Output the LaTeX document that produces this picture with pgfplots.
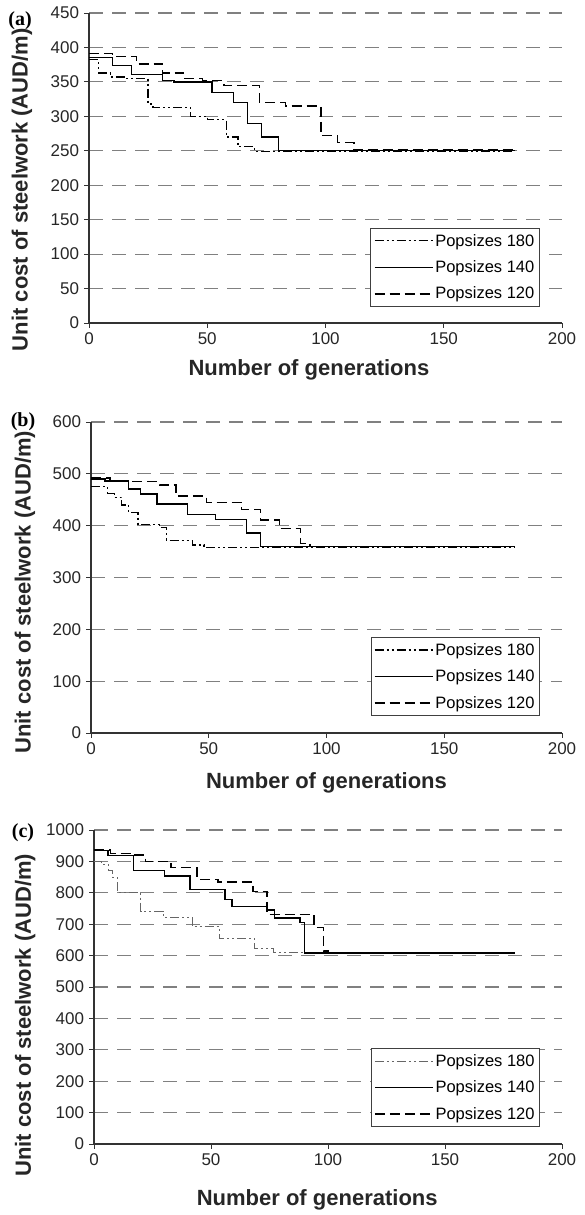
\documentclass[border=0pt]{standalone}
\usepackage{pgfplots}
\pgfplotsset{compat=1.18}
\usepackage{fontspec}
\setmainfont{Liberation Sans}
\newfontfamily\tnr{Liberation Serif}

\pgfplotsset{
 panel/.style={
  scale only axis, xmin=0, xmax=200, ymin=0,
  axis x line*=bottom, axis y line*=left,
  axis line style={-, black!80, line width=1.1pt},
  xtick={0,50,...,200},
  tick align=outside, major tick length=4.5pt,
  tick style={black!80, line width=1pt},
  ymajorgrids, grid style={black!50, line width=1.1pt, dash pattern=on 14pt off 9pt},
  tick label style={font=\fontsize{17}{20}\selectfont, black!85},
  yticklabel style={xshift=-2pt},
  xticklabel style={yshift=-2pt},
  /pgf/number format/assume math mode=true,
  /pgf/number format/1000 sep={},
  label style={font=\bfseries\fontsize{22}{26}\selectfont, black!85},
  xlabel={Number of generations},
  ylabel={Unit cost of steelwork (AUD/m)},
  legend style={draw=black!75, line width=0.8pt, fill=white,
    font=\fontsize{16.5}{19}\selectfont, anchor=south east,
    inner xsep=3pt, inner ysep=4pt, row sep=9pt, cells={anchor=west}},
  legend image code/.code={\draw[#1] (0pt,0pt) -- (58pt,0pt);},
 },
 p180/.style={black, line width=1.3pt, dash pattern=on 9pt off 3pt on 2pt off 3pt on 2pt off 3pt, const plot},
 p140/.style={black, line width=1.3pt, solid, const plot},
 p120/.style={black, line width=1.5pt, dash pattern=on 10pt off 5pt, const plot},
}

\begin{document}
\begin{tikzpicture}
\useasboundingbox (0,0) rectangle (584pt,-1215pt);

% ---------------- (a)
\begin{axis}[panel, at={(89pt,-323pt)}, anchor=south west,
  width=473pt, height=310pt, ymax=450, ytick={0,50,...,450},
  xlabel style={at={(axis description cs:0.465,-0.152)}, anchor=center},
  ylabel style={at={(axis description cs:-0.1416,0.43)}, anchor=center},
  legend style={at={(axis description cs:0.953,0.052)}}]
\addplot[p180] coordinates {(0,382) (4,363) (9,357) (15,355) (25,318) (27,313) (43,300) (50,295) (58,270) (63,256) (70,249) (180,249)};
\addlegendentry{Popsizes 180}
\addplot[p140] coordinates {(0,385) (10,374) (18,361) (31,352) (36,350) (52,335) (61,320) (67,290) (73,270) (80,250) (180,250)};
\addlegendentry{Popsizes 140}
\addplot[p120] coordinates {(0,391) (10,387) (20,376) (31,363) (40,355) (48,352) (57,345) (72,320) (83,315) (98,272) (105,262) (112,251) (180,251)};
\addlegendentry{Popsizes 120}
\end{axis}

% ---------------- (b)
\begin{axis}[panel, at={(91pt,-733pt)}, anchor=south west,
  width=471pt, height=311pt, ymax=600, ytick={0,100,...,600},
  xlabel style={at={(axis description cs:0.5,-0.161)}, anchor=center},
  ylabel style={at={(axis description cs:-0.14,0.453)}, anchor=center},
  legend style={at={(axis description cs:0.953,0.055)}}]
\addplot[p180] coordinates {(0,475) (7,462) (10,455) (13,440) (16,425) (20,402) (29,397) (32,372) (43,363) (48,358) (180,358)};
\addlegendentry{Popsizes 180}
\addplot[p140] coordinates {(0,490) (6,486) (16,471) (21,461) (28,442) (41,421) (53,412) (66,386) (72,360) (180,360)};
\addlegendentry{Popsizes 140}
\addplot[p120] coordinates {(0,492) (8,487) (16,485) (29,478) (36,457) (49,445) (64,431) (72,411) (80,395) (89,366) (93,360) (180,360)};
\addlegendentry{Popsizes 120}
\end{axis}

% ---------------- (c)
\begin{axis}[panel, at={(94pt,-1144pt)}, anchor=south west,
  width=468pt, height=314pt, ymax=1000, ytick={0,100,...,1000},
  xlabel style={at={(axis description cs:0.477,-0.178)}, anchor=center},
  ylabel style={at={(axis description cs:-0.147,0.41)}, anchor=center},
  legend style={at={(axis description cs:0.953,0.054)}}]
\addplot[p180, black!60, line width=1pt] coordinates {(0,900) (3,891) (6,870) (8,850) (10,802) (20,741) (29.5,722) (42,692) (53.5,655) (68.5,624) (76.5,610) (180,610)};
\addlegendentry{Popsizes 180}
\addplot[p140] coordinates {(0,935) (6,918) (17,870) (30,854) (41,810) (56,778) (59,757) (74,745) (77,720) (88,705) (90,608) (180,608)};
\addlegendentry{Popsizes 140}
\addplot[p120] coordinates {(0,936) (7,925) (17,920) (22,900) (33,880) (44,843) (53,834) (68,804) (74,731) (94,690) (98,615) (100,610) (180,610)};
\addlegendentry{Popsizes 120}
\end{axis}

\node[font=\tnr\bfseries\fontsize{20}{24}\selectfont] at (20pt,-20.5pt) {(a)};
\node[font=\tnr\bfseries\fontsize{20}{24}\selectfont] at (23pt,-422pt) {(b)};
\node[font=\tnr\bfseries\fontsize{20}{24}\selectfont] at (23pt,-833pt) {(c)};
\end{tikzpicture}
\end{document}
